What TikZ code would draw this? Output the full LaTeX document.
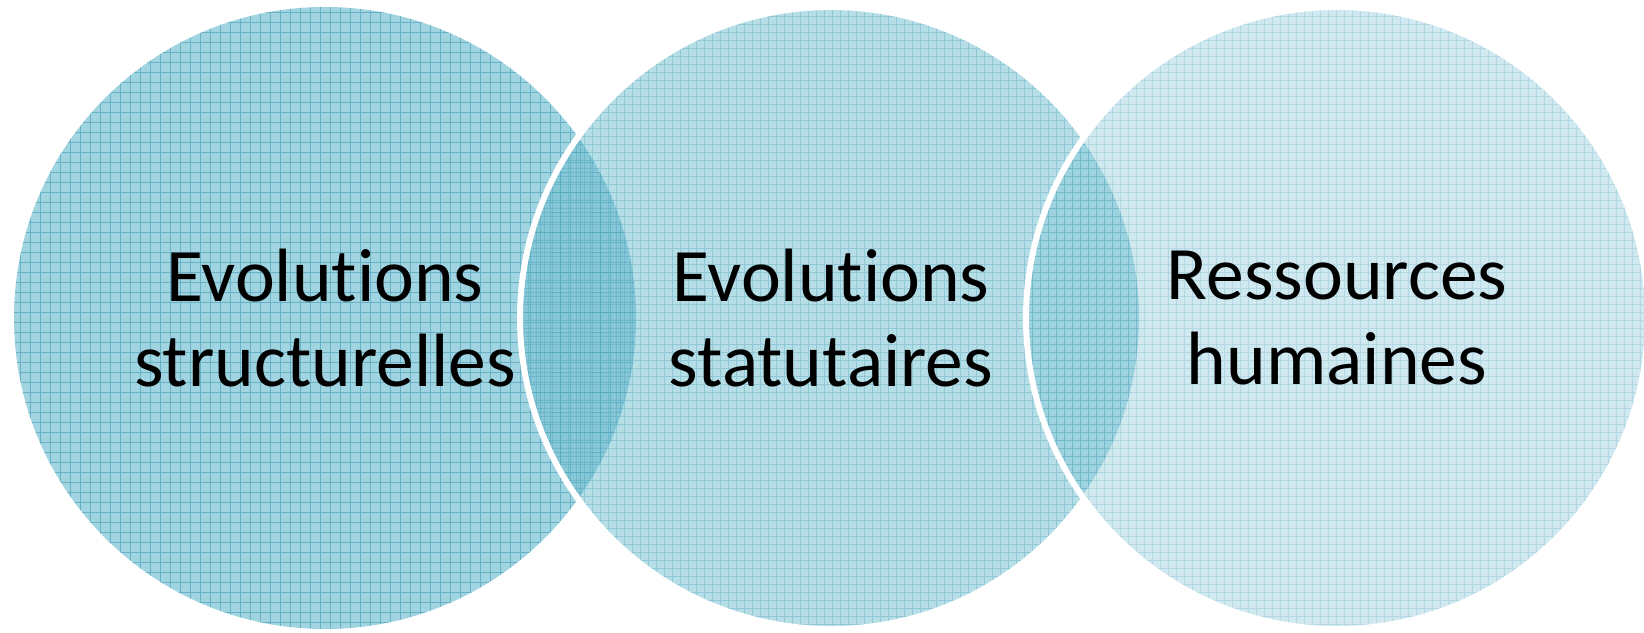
\documentclass[tikz,border=0pt]{standalone}
\usepackage{fontspec}
\setmainfont{Carlito}[Ligatures={NoCommon,NoRequired,NoContextual}]
\definecolor{vennteal}{RGB}{102,185,205}
\definecolor{gridteal}{RGB}{60,150,178}

\begin{document}
\begin{tikzpicture}[
    disc/.style={fill=vennteal},
    rim/.style={draw=white, line width=3.4pt},
    venntext/.style={align=center, font=\fontsize{43}{48}\selectfont}
]
    \useasboundingbox (0,0) rectangle (32.88,12.64);

    % Centres of the three circles
    \coordinate (struct) at (6.50,6.28);
    \coordinate (statut) at (16.62,6.28);
    \coordinate (rh) at (26.74,6.28);

    % Left circle
    \fill[disc, fill opacity=0.62] (struct) circle (6.22);
    \begin{scope}
        \clip (struct) circle (6.22);
        \draw[gridteal, line width=0.5pt, opacity=0.55, step=0.2] (0,0) grid (13,12.64);
    \end{scope}

    % Middle circle
    \fill[disc, fill opacity=0.48] (statut) circle (6.22);
    \begin{scope}
        \clip (statut) circle (6.22);
        \draw[gridteal, line width=0.4pt, opacity=0.3, step=0.16] (10,0) grid (23,12.64);
    \end{scope}
    \draw[rim] (statut) circle (6.22);

    % Right circle
    \fill[disc, fill opacity=0.31] (rh) circle (6.22);
    \begin{scope}
        \clip (rh) circle (6.22);
        \draw[gridteal, line width=0.4pt, opacity=0.2, step=0.16] (20,0) grid (33,12.64);
    \end{scope}
    \draw[rim] (rh) circle (6.22);

    % Labels
    \node[venntext] (structlbl) at (struct) {Evolutions\\structurelles};
    \node[venntext] (statutlbl) at (statut) {Evolutions\\statutaires};
    \node[venntext] (rhlbl) at (rh) {Ressources\\humaines};
\end{tikzpicture}
\end{document}
